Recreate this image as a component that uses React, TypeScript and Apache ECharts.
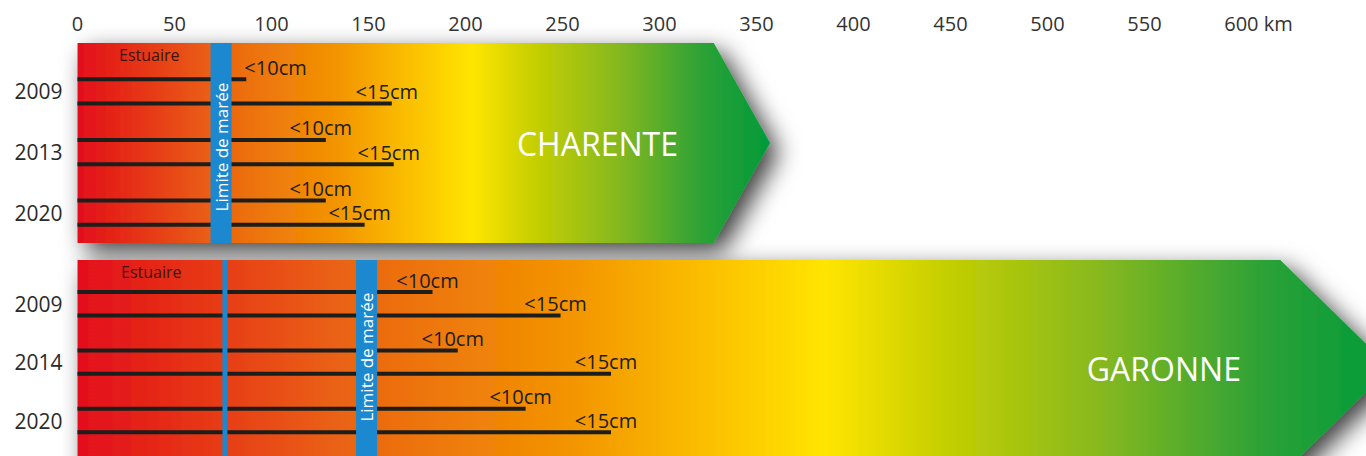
import React, { useEffect, useRef } from "react";
import * as echarts from "echarts";

// ---------- data ----------
const xTicks = [0, 50, 100, 150, 200, 250, 300, 350, 400, 450, 500, 550, 600];
const unitLabel = "km";
const thresholdLabels = ["<10cm", "<15cm"];
const riverNames = ["CHARENTE", "GARONNE"];
const estuaryLabel = "Estuaire";
const tideLabel = "Limite de marée";

const charenteYears = ["2009", "2013", "2020"];
const charenteUnder10 = [87, 128, 128];
const charenteUnder15 = [162, 163, 148];
const charenteEstuaryEnd = 74;
const charenteTideLimit = 74;
const charenteBodyEnd = 328;
const charenteTip = 357;

const garonneYears = ["2009", "2014", "2020"];
const garonneUnder10 = [183, 196, 231];
const garonneUnder15 = [249, 275, 275];
const garonneEstuaryEnd = 76;
const garonneTideLimit = 149;
const garonneBodyEnd = 620;
const garonneTip = 677;

// ---------- layout ----------
const FONT = '"Open Sans", "Noto Sans", sans-serif';
const X_MAX = 660;
const PX_PER_KM = 1.94;
const GRID_LEFT = 77.5;
const GRID_W = X_MAX * PX_PER_KM;

const layouts = [
  { top: 43, height: 200, yMax: 3.3, yearOffset: 0.8 },
  { top: 260, height: 216, yMax: 3.7, yearOffset: 0.75 },
];
const PAIR_OFFSET = 0.2;

const rivers = [
  {
    name: riverNames[0],
    years: charenteYears,
    under10: charenteUnder10,
    under15: charenteUnder15,
    estuaryEnd: charenteEstuaryEnd,
    tideLimit: charenteTideLimit,
    bodyEnd: charenteBodyEnd,
    tip: charenteTip,
  },
  {
    name: riverNames[1],
    years: garonneYears,
    under10: garonneUnder10,
    under15: garonneUnder15,
    estuaryEnd: garonneEstuaryEnd,
    tideLimit: garonneTideLimit,
    bodyEnd: garonneBodyEnd,
    tip: garonneTip,
  },
];

const gradientStops = [
  { offset: 0, color: "#e30e1b" },
  { offset: 0.2, color: "#ea6312" },
  { offset: 0.38, color: "#f39600" },
  { offset: 0.5, color: "#fcc800" },
  { offset: 0.57, color: "#ffe500" },
  { offset: 0.66, color: "#c5cf00" },
  { offset: 0.78, color: "#86b81f" },
  { offset: 0.9, color: "#2ea236" },
  { offset: 1, color: "#009a3a" },
];

const BLUE = "#1c88cf";
const LINE_COLOR = "#1d1d1b";

function buildOption() {
  const grid: any[] = [];
  const xAxis: any[] = [];
  const yAxis: any[] = [];
  const shapeSeries: any[] = [];
  const lineSeries: any[] = [];
  const markerSeries: any[] = [];
  const nameSeries: any[] = [];

  rivers.forEach((r, i) => {
    const L = layouts[i];
    grid.push({
      left: GRID_LEFT,
      top: L.top,
      width: GRID_W,
      height: L.height,
      containLabel: false,
      outerBoundsMode: "none",
    });
    xAxis.push({
      gridIndex: i,
      type: "value",
      min: 0,
      max: X_MAX,
      position: "top",
      show: i === 0,
      axisLine: { show: false },
      axisTick: { show: false },
      splitLine: { show: false },
      axisLabel: {
        show: i === 0,
        customValues: xTicks,
        margin: 10,
        fontSize: 20,
        fontFamily: FONT,
        color: "#333",
        formatter: (v: number) =>
          v === xTicks[xTicks.length - 1] ? `{k|${v} ${unitLabel}}` : String(v),
        rich: {
          k: {
            fontSize: 20,
            fontFamily: FONT,
            color: "#333",
            padding: [0, 0, 0, 34],
          },
        },
      },
    });
    const yearValues = r.years.map((_, k) => L.yearOffset + k);
    yAxis.push({
      gridIndex: i,
      type: "value",
      inverse: true,
      min: 0,
      max: L.yMax,
      axisLine: { show: false },
      axisTick: { show: false },
      splitLine: { show: false },
      axisLabel: {
        customValues: yearValues,
        margin: 15,
        fontSize: 21,
        fontFamily: FONT,
        color: "#2a2a2a",
        formatter: (v: number) => r.years[Math.round(v - L.yearOffset)] ?? "",
      },
    });

    // river arrow shape
    shapeSeries.push({
      type: "custom",
      xAxisIndex: i,
      yAxisIndex: i,
      clip: false,
      silent: true,
      data: [[r.bodyEnd, r.tip]],
      renderItem: (_p: any, api: any) => {
        const body = api.value(0);
        const tip = api.value(1);
        const pts = [
          api.coord([0, 0]),
          api.coord([body, 0]),
          api.coord([tip, L.yMax / 2]),
          api.coord([body, L.yMax]),
          api.coord([0, L.yMax]),
        ];
        return {
          type: "polygon",
          shape: { points: pts },
          style: {
            fill: new echarts.graphic.LinearGradient(0, 0, 1, 0, gradientStops),
            shadowBlur: 24,
            shadowColor: "rgba(0,0,0,0.75)",
            shadowOffsetX: 9,
            shadowOffsetY: 9,
          },
        };
      },
    });

    // threshold lines
    const lineData: number[][] = [];
    r.years.forEach((_, k) => {
      lineData.push([r.under10[k], L.yearOffset + k - PAIR_OFFSET, 0]);
      lineData.push([r.under15[k], L.yearOffset + k + PAIR_OFFSET, 1]);
    });
    lineSeries.push({
      type: "custom",
      xAxisIndex: i,
      yAxisIndex: i,
      clip: false,
      silent: true,
      data: lineData,
      renderItem: (_p: any, api: any) => {
        const end = api.value(0);
        const yv = api.value(1);
        const th = api.value(2);
        const a = api.coord([0, yv]);
        const b = api.coord([end, yv]);
        const barRight = api.coord([r.tideLimit, yv])[0] + 10.5;
        const tx = Math.max(b[0] - 5, barRight + 44);
        return {
          type: "group",
          children: [
            {
              type: "rect",
              shape: { x: a[0], y: a[1] - 2, width: b[0] - a[0], height: 4 },
              style: { fill: LINE_COLOR },
            },
            {
              type: "text",
              x: tx,
              y: a[1] - 12,
              style: {
                text: thresholdLabels[th],
                fill: "#1d1d1b",
                fontSize: 20,
                fontFamily: FONT,
                align: "center",
                verticalAlign: "middle",
              },
            },
          ],
        };
      },
    });

    // tide limit bar, estuary line, labels
    markerSeries.push({
      type: "custom",
      xAxisIndex: i,
      yAxisIndex: i,
      clip: false,
      silent: true,
      data: [[r.tideLimit, r.estuaryEnd]],
      renderItem: (_p: any, api: any) => {
        const tide = api.value(0);
        const est = api.value(1);
        const top = api.coord([tide, 0]);
        const bot = api.coord([tide, L.yMax]);
        const firstY = api.coord([0, L.yearOffset - PAIR_OFFSET])[1];
        const lastY = api.coord([0, L.yearOffset + r.years.length - 1 + PAIR_OFFSET])[1];
        const children: any[] = [];
        if (est !== tide) {
          const e = api.coord([est, 0]);
          children.push({
            type: "rect",
            shape: { x: e[0] - 2.5, y: top[1], width: 5, height: bot[1] - top[1] },
            style: { fill: BLUE },
          });
        }
        children.push({
          type: "rect",
          shape: { x: top[0] - 10.5, y: top[1], width: 21, height: bot[1] - top[1] },
          style: { fill: BLUE },
        });
        children.push({
          type: "text",
          x: top[0],
          y: (firstY + lastY) / 2 - 5,
          rotation: Math.PI / 2,
          style: {
            text: tideLabel,
            fill: "#ffffff",
            fontSize: 17,
            fontFamily: FONT,
            align: "center",
            verticalAlign: "middle",
          },
        });
        const estC = api.coord([est / 2, 0]);
        children.push({
          type: "text",
          x: estC[0],
          y: estC[1] + 12,
          style: {
            text: estuaryLabel,
            fill: "#3d1410",
            fontSize: 16,
            fontFamily: FONT,
            align: "center",
            verticalAlign: "middle",
          },
        });
        return { type: "group", children };
      },
    });

    // river name
    nameSeries.push({
      type: "custom",
      xAxisIndex: i,
      yAxisIndex: i,
      clip: false,
      silent: true,
      data: [[r.bodyEnd]],
      renderItem: (_p: any, api: any) => {
        const c = api.coord([api.value(0) - 60, L.yMax / 2]);
        return {
          type: "text",
          x: c[0],
          y: c[1],
          style: {
            text: r.name,
            fill: "#ffffff",
            fontSize: 32,
            fontFamily: FONT,
            align: "center",
            verticalAlign: "middle",
          },
        };
      },
    });
  });

  return {
    animation: false,
    backgroundColor: "#ffffff",
    grid,
    xAxis,
    yAxis,
    series: [...shapeSeries, ...lineSeries, ...markerSeries, ...nameSeries],
  };
}

export default function App() {
  const ref = useRef<HTMLDivElement>(null);
  useEffect(() => {
    document.body.style.margin = "0";
    if (!ref.current) return;
    const chart = echarts.init(ref.current, null, { renderer: "svg" });
    chart.setOption(buildOption() as any);
    return () => chart.dispose();
  }, []);
  return <div ref={ref} style={{ width: 1366, height: 456, overflow: "hidden" }} />;
}
